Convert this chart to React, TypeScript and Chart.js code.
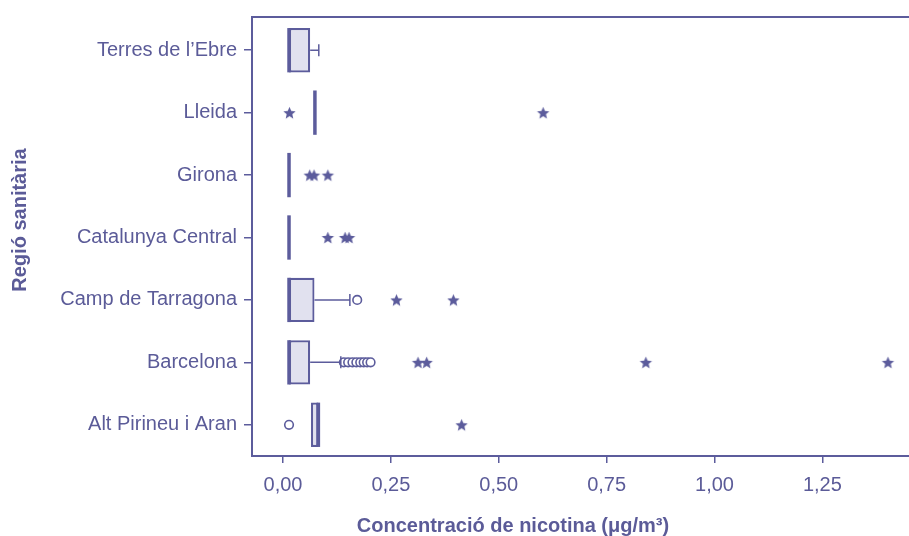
import React, { useEffect, useRef } from "react";
import { Chart, registerables } from "chart.js";

Chart.register(...registerables);

// ---- Data ----
const regions = [
  "Terres de l’Ebre",
  "Lleida",
  "Girona",
  "Catalunya Central",
  "Camp de Tarragona",
  "Barcelona",
  "Alt Pirineu i Aran",
];

// box: first and third quartiles (null = box collapsed)
const q1 = [0.014, null, null, null, 0.014, 0.014, 0.065];
const q3 = [0.063, null, null, null, 0.073, 0.063, 0.082];
const medians = [0.014, 0.074, 0.014, 0.014, 0.014, 0.014, 0.082];
const whiskerHigh = [0.083, null, null, null, 0.155, 0.134, null];

// outliers (circles) and extreme values (stars), per region
const circleOutliers = [
  [],
  [],
  [],
  [],
  [0.172],
  [0.141, 0.151, 0.161, 0.17, 0.179, 0.187, 0.195, 0.203],
  [0.014],
];
const starOutliers = [
  [],
  [0.015, 0.603],
  [0.062, 0.072, 0.104],
  [0.104, 0.144, 0.153],
  [0.263, 0.395],
  [0.313, 0.333, 0.841, 1.402],
  [0.414],
];

const xTickStep = 0.25;
const xMin = -0.0718;
const xMax = 1.4508;

const xTitle = "Concentració de nicotina (μg/m³)";
const yTitle = "Regió sanitària";

// ---- Style ----
const LINE = "#5c5c9c";
const TEXT = "#5b5b98";
const FILL = "#e1e1ef";
const FONT = "'Liberation Sans', Arial, sans-serif";
const BOX_FRACTION = 0.71;

function makeStar(color: string, r: number) {
  const c = document.createElement("canvas");
  const s = Math.ceil(r * 2) + 2;
  c.width = s;
  c.height = s;
  const g = c.getContext("2d")!;
  g.translate(s / 2, s / 2 + r * 0.1);
  g.beginPath();
  for (let k = 0; k < 10; k++) {
    const rad = k % 2 ? r * 0.45 : r;
    const a = -Math.PI / 2 + (k * Math.PI) / 5;
    g.lineTo(rad * Math.cos(a), rad * Math.sin(a));
  }
  g.closePath();
  g.fillStyle = color;
  g.fill();
  return c;
}

const boxPlugin = {
  id: "boxExtras",
  afterDatasetsDraw(chart: any) {
    const { ctx, scales, chartArea } = chart;
    const x = scales.x;
    const y = scales.y;
    const band = y.getPixelForValue(1) - y.getPixelForValue(0);
    const half = (band * BOX_FRACTION) / 2;
    ctx.save();
    ctx.strokeStyle = LINE;
    regions.forEach((_, i) => {
      const cy = y.getPixelForValue(i);
      const hi = whiskerHigh[i];
      const top = q3[i];
      if (hi != null && top != null) {
        const x0 = x.getPixelForValue(top);
        const x1 = x.getPixelForValue(hi);
        ctx.lineWidth = 1.5;
        ctx.beginPath();
        ctx.moveTo(x0, cy);
        ctx.lineTo(x1, cy);
        ctx.moveTo(x1, cy - 6);
        ctx.lineTo(x1, cy + 6);
        ctx.stroke();
      }
      const mx = x.getPixelForValue(medians[i]);
      ctx.lineWidth = 3.5;
      ctx.beginPath();
      ctx.moveTo(mx, cy - half);
      ctx.lineTo(mx, cy + half);
      ctx.stroke();
    });
    // top frame line (slightly above the plotting band)
    const ft = chartArea.top - 2;
    ctx.lineWidth = 2;
    ctx.beginPath();
    ctx.moveTo(chartArea.left, chartArea.top);
    ctx.lineTo(chartArea.left, ft);
    ctx.lineTo(chartArea.right + 20, ft);
    ctx.stroke();
    ctx.restore();
  },
  afterDraw(chart: any) {
    const { ctx, chartArea } = chart;
    ctx.save();
    ctx.fillStyle = TEXT;
    ctx.font = `bold 20px ${FONT}`;
    ctx.textAlign = "center";
    ctx.textBaseline = "middle";
    ctx.fillText(xTitle, chartArea.left + 261, chartArea.bottom + 70);
    ctx.translate(20, 220);
    ctx.rotate(-Math.PI / 2);
    ctx.fillText(yTitle, 0, 0);
    ctx.restore();
  },
};

export default function App() {
  const ref = useRef<HTMLCanvasElement>(null);
  useEffect(() => {
    const star = makeStar(LINE, 6.5);
    const boxData = regions.map((_, i) =>
      q1[i] != null && q3[i] != null ? [q1[i], q3[i]] : null
    );
    const circlePts: any[] = [];
    circleOutliers.forEach((arr, i) => arr.forEach((v) => circlePts.push({ x: v, y: regions[i] })));
    const starPts: any[] = [];
    starOutliers.forEach((arr, i) => arr.forEach((v) => starPts.push({ x: v, y: regions[i] })));

    const chart = new Chart(ref.current!, {
      type: "bar",
      data: {
        labels: regions,
        datasets: [
          {
            type: "bar",
            data: boxData as any,
            backgroundColor: FILL,
            borderColor: LINE,
            borderWidth: 2.2,
            borderSkipped: false,
            barPercentage: BOX_FRACTION,
            categoryPercentage: 1,
            grouped: false,
          } as any,
          {
            type: "scatter",
            data: circlePts,
            pointStyle: "circle",
            pointRadius: 4.3,
            pointBorderWidth: 1.6,
            pointBackgroundColor: "#ffffff",
            pointBorderColor: LINE,
          } as any,
          {
            type: "scatter",
            data: starPts,
            pointStyle: star,
            pointRadius: 6,
          } as any,
        ],
      },
      options: {
        indexAxis: "y",
        animation: false,
        responsive: false,
        layout: { autoPadding: false, padding: { top: 15, right: 0, left: 0, bottom: 0 } },
        plugins: { legend: { display: false }, tooltip: { enabled: false } },
        scales: {
          x: {
            type: "linear",
            min: xMin,
            max: xMax,
            ticks: {
              stepSize: xTickStep,
              includeBounds: false,
              color: TEXT,
              font: { family: FONT, size: 20 },
              padding: 10,
              callback: (v: any) => Number(v).toFixed(2).replace(".", ","),
            },
            grid: {
              display: true,
              drawOnChartArea: false,
              drawTicks: true,
              tickLength: 7,
              color: LINE,
              lineWidth: 1.5,
            },
            border: { display: true, color: LINE, width: 2 },
            afterFit: (s: any) => {
              s.height = 80;
            },
          },
          y: {
            type: "category",
            labels: regions,
            offset: true,
            ticks: {
              color: TEXT,
              font: { family: FONT, size: 20 },
              padding: 7,
            },
            grid: {
              display: true,
              drawOnChartArea: false,
              drawTicks: true,
              tickLength: 8,
              offset: false,
              color: LINE,
              lineWidth: 1.5,
            },
            border: { display: true, color: LINE, width: 2 },
            afterFit: (s: any) => {
              s.width = 252;
            },
          },
        },
      },
      plugins: [boxPlugin],
    });
    return () => chart.destroy();
  }, []);

  return (
    <div style={{ position: "absolute", left: 0, top: 0, width: 909, height: 536, overflow: "hidden" }}>
      <canvas ref={ref} width={909} height={536} />
    </div>
  );
}
